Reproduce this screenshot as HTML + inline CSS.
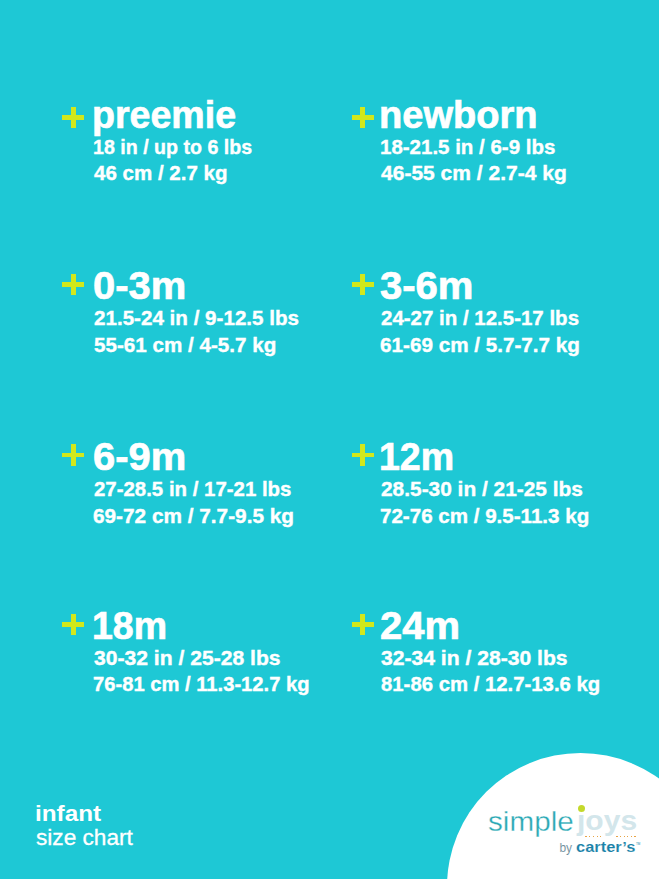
<!DOCTYPE html>
<html><head><meta charset="utf-8">
<style>
html,body{margin:0;padding:0;}
body{width:659px;height:879px;overflow:hidden;background:#1ec8d5;position:relative;font-family:"Liberation Sans",sans-serif;color:#fff;}
.t{position:absolute;line-height:1;white-space:nowrap;transform-origin:0 0;}
.plus{position:absolute;width:22.4px;height:21.5px;}
.p2:before{left:8.6px !important;}
.plus:before{content:"";position:absolute;left:9.4px;top:0;width:4.8px;height:100%;background:#d2e81c;}
.plus:after{content:"";position:absolute;left:0;top:8.4px;width:100%;height:4.8px;background:#d2e81c;}
.circle{position:absolute;left:446.5px;top:752.5px;width:267px;height:267px;border-radius:50%;background:#fff;}
</style></head><body>
<div class="t" style="left:92.32px;top:96.00px;font-size:38px;font-weight:bold;transform:scaleX(0.9881);-webkit-text-stroke:0.7px #fff">preemie</div>
<div class="t" style="left:93.37px;top:135.90px;font-size:21px;font-weight:bold;transform:scaleX(0.9337);-webkit-text-stroke:0.4px #fff">18 in / up to 6 lbs</div>
<div class="t" style="left:94.30px;top:162.40px;font-size:21px;font-weight:bold;transform:scaleX(0.9779);-webkit-text-stroke:0.4px #fff">46 cm / 2.7 kg</div>
<div class="t" style="left:379.00px;top:96.00px;font-size:38px;font-weight:bold;transform:scaleX(1.0013);-webkit-text-stroke:0.7px #fff">newborn</div>
<div class="t" style="left:380.02px;top:135.90px;font-size:21px;font-weight:bold;transform:scaleX(0.9753);-webkit-text-stroke:0.4px #fff">18-21.5 in / 6-9 lbs</div>
<div class="t" style="left:381.00px;top:162.40px;font-size:21px;font-weight:bold;transform:scaleX(1.0011);-webkit-text-stroke:0.4px #fff">46-55 cm / 2.7-4 kg</div>
<div class="t" style="left:93.25px;top:267.20px;font-size:38px;font-weight:bold;transform:scaleX(1.0500);-webkit-text-stroke:0.7px #fff">0-3m</div>
<div class="t" style="left:94.30px;top:307.20px;font-size:21px;font-weight:bold;transform:scaleX(0.9812);-webkit-text-stroke:0.4px #fff">21.5-24 in / 9-12.5 lbs</div>
<div class="t" style="left:94.30px;top:333.50px;font-size:21px;font-weight:bold;transform:scaleX(0.9822);-webkit-text-stroke:0.4px #fff">55-61 cm / 4-5.7 kg</div>
<div class="t" style="left:379.95px;top:267.20px;font-size:38px;font-weight:bold;transform:scaleX(1.0535);-webkit-text-stroke:0.7px #fff">3-6m</div>
<div class="t" style="left:381.00px;top:307.20px;font-size:21px;font-weight:bold;transform:scaleX(0.9749);-webkit-text-stroke:0.4px #fff">24-27 in / 12.5-17 lbs</div>
<div class="t" style="left:380.02px;top:333.50px;font-size:21px;font-weight:bold;transform:scaleX(0.9846);-webkit-text-stroke:0.4px #fff">61-69 cm / 5.7-7.7 kg</div>
<div class="t" style="left:93.25px;top:438.00px;font-size:38px;font-weight:bold;transform:scaleX(1.0500);-webkit-text-stroke:0.7px #fff">6-9m</div>
<div class="t" style="left:94.30px;top:478.00px;font-size:21px;font-weight:bold;transform:scaleX(0.9719);-webkit-text-stroke:0.4px #fff">27-28.5 in / 17-21 lbs</div>
<div class="t" style="left:93.31px;top:504.50px;font-size:21px;font-weight:bold;transform:scaleX(0.9896);-webkit-text-stroke:0.4px #fff">69-72 cm / 7.7-9.5 kg</div>
<div class="t" style="left:379.02px;top:438.00px;font-size:38px;font-weight:bold;transform:scaleX(0.9875);-webkit-text-stroke:0.7px #fff">12m</div>
<div class="t" style="left:381.00px;top:478.00px;font-size:21px;font-weight:bold;transform:scaleX(0.9941);-webkit-text-stroke:0.4px #fff">28.5-30 in / 21-25 lbs</div>
<div class="t" style="left:380.02px;top:504.50px;font-size:21px;font-weight:bold;transform:scaleX(0.9792);-webkit-text-stroke:0.4px #fff">72-76 cm / 9.5-11.3 kg</div>
<div class="t" style="left:92.33px;top:606.50px;font-size:38px;font-weight:bold;transform:scaleX(0.9861);-webkit-text-stroke:0.7px #fff">18m</div>
<div class="t" style="left:94.30px;top:646.60px;font-size:21px;font-weight:bold;transform:scaleX(1.0049);-webkit-text-stroke:0.4px #fff">30-32 in / 25-28 lbs</div>
<div class="t" style="left:93.34px;top:673.00px;font-size:21px;font-weight:bold;transform:scaleX(0.9610);-webkit-text-stroke:0.4px #fff">76-81 cm / 11.3-12.7 kg</div>
<div class="t" style="left:379.95px;top:606.50px;font-size:38px;font-weight:bold;transform:scaleX(1.0521);-webkit-text-stroke:0.7px #fff">24m</div>
<div class="t" style="left:381.00px;top:646.60px;font-size:21px;font-weight:bold;transform:scaleX(1.0054);-webkit-text-stroke:0.4px #fff">32-34 in / 28-30 lbs</div>
<div class="t" style="left:381.00px;top:673.00px;font-size:21px;font-weight:bold;transform:scaleX(0.9681);-webkit-text-stroke:0.4px #fff">81-86 cm / 12.7-13.6 kg</div>
<div class="t" style="left:34.79px;top:802.90px;font-size:22px;font-weight:bold;transform:scaleX(1.1034)">infant</div>
<div class="t" style="left:35.97px;top:826.70px;font-size:22px;font-weight:normal;transform:scaleX(1.0290);-webkit-text-stroke:0.3px #fff">size chart</div>
<div class="plus" style="left:61.7px;top:106.7px"></div>
<div class="plus p2" style="left:351.7px;top:106.7px"></div>
<div class="plus" style="left:61.7px;top:273.5px"></div>
<div class="plus p2" style="left:351.7px;top:273.5px"></div>
<div class="plus" style="left:61.7px;top:444.2px"></div>
<div class="plus p2" style="left:351.7px;top:444.2px"></div>
<div class="plus" style="left:61.7px;top:613.6px"></div>
<div class="plus p2" style="left:351.7px;top:613.6px"></div>
<div class="circle"></div>

<div class="t" style="left:488.06px;top:807.00px;font-size:28.5px;font-weight:normal;transform:scaleX(1.0412);color:#2aa8b4;-webkit-text-stroke:0.35px #fff">simple</div>
<div class="t" style="left:576.50px;top:807.20px;font-size:28px;font-weight:bold;transform:scaleX(1.0727);color:#d3e6eb">joys</div>
<div class="t" style="left:559.40px;top:842.20px;font-size:12px;font-weight:normal;transform:scaleX(1.0000);color:#55798a;-webkit-text-stroke:0.2px #fff">by</div>
<div class="t" style="left:575.60px;top:840.30px;font-size:14px;font-weight:bold;transform:scaleX(1.1740);color:#1a82a8;-webkit-text-stroke:0.1px #fff">carter’s</div>
<div style="position:absolute;left:577.5px;top:803px;width:9px;height:10.5px;background:#fff"></div>
<div style="position:absolute;left:578px;top:805.3px;width:7px;height:7px;border-radius:50%;background:#c4d92c"></div>
<div style="position:absolute;left:585.4px;top:835.6px;width:1.3px;height:1.3px;background:#e8a445"></div><div style="position:absolute;left:589.1px;top:835.6px;width:1.3px;height:1.3px;background:#e8a445"></div><div style="position:absolute;left:592.8px;top:835.6px;width:1.3px;height:1.3px;background:#e8a445"></div><div style="position:absolute;left:596.5px;top:835.6px;width:1.3px;height:1.3px;background:#e8a445"></div><div style="position:absolute;left:600.2px;top:835.6px;width:1.3px;height:1.3px;background:#e8a445"></div><div style="position:absolute;left:616.4px;top:835.6px;width:1.3px;height:1.3px;background:#e8a445"></div><div style="position:absolute;left:620.0px;top:835.6px;width:1.3px;height:1.3px;background:#e8a445"></div><div style="position:absolute;left:623.6px;top:835.6px;width:1.3px;height:1.3px;background:#e8a445"></div><div style="position:absolute;left:627.2px;top:835.6px;width:1.3px;height:1.3px;background:#e8a445"></div><div style="position:absolute;left:630.8px;top:835.6px;width:1.3px;height:1.3px;background:#e8a445"></div><div style="position:absolute;left:634.4px;top:835.6px;width:1.3px;height:1.3px;background:#e8a445"></div>
<div style="position:absolute;left:636px;top:843px;font-size:3px;line-height:1;color:#1b87a9;font-family:'Liberation Sans'">TM</div>

</body></html>
